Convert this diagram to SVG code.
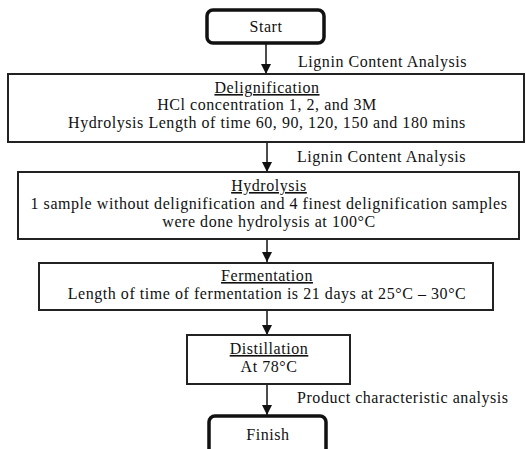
<svg xmlns="http://www.w3.org/2000/svg" width="526" height="449" viewBox="0 0 526 449">
<style>
text{font-family:"Liberation Serif","Times New Roman",serif;font-size:16px;letter-spacing:0.55px;fill:#111;}
.c{text-anchor:middle;}
.u{text-decoration:underline;}
.box{fill:#fff;stroke:#222;stroke-width:2;}
.term{fill:#fff;stroke:#111;stroke-width:3.5;}
.conn line{stroke:#111;stroke-width:1.5;}
</style>
<defs>
<marker id="ah" viewBox="0 0 10 10" refX="10" refY="5" markerWidth="10" markerHeight="10" markerUnits="userSpaceOnUse" orient="auto">
<path d="M0,0 L10,5 L0,10 z" fill="#111"/>
</marker>
</defs>
<g id="connectors" class="conn">
<line x1="266" y1="44" x2="266" y2="74" marker-end="url(#ah)"/>
<line x1="267" y1="142" x2="267" y2="172" marker-end="url(#ah)"/>
<line x1="267" y1="240" x2="267" y2="262" marker-end="url(#ah)"/>
<line x1="267" y1="310" x2="267" y2="335" marker-end="url(#ah)"/>
<line x1="267" y1="384" x2="267" y2="415" marker-end="url(#ah)"/>
</g>
<g id="start">
<rect class="term" x="207" y="10" width="117" height="33" rx="6"/>
<text class="c" x="266" y="32">Start</text>
</g>
<g id="label1"><text x="298" y="67">Lignin Content Analysis</text></g>
<g id="delignification">
<rect class="box" x="8" y="74" width="516" height="68"/>
<text class="c u" x="267" y="93">Delignification</text>
<text class="c" x="267" y="110">HCl concentration 1, 2, and 3M</text>
<text class="c" x="267" y="128">Hydrolysis Length of time 60, 90, 120, 150 and 180 mins</text>
</g>
<g id="label2"><text x="297" y="162">Lignin Content Analysis</text></g>
<g id="hydrolysis">
<rect class="box" x="18" y="172" width="501" height="67"/>
<text class="c u" x="269" y="191">Hydrolysis</text>
<text class="c" x="269" y="209">1 sample without delignification and 4 finest delignification samples</text>
<text class="c" x="269" y="227">were done hydrolysis at 100°C</text>
</g>
<g id="fermentation">
<rect class="box" x="39" y="263" width="454" height="47"/>
<text class="c u" x="267" y="281">Fermentation</text>
<text class="c" x="267" y="299">Length of time of fermentation is 21 days at 25°C – 30°C</text>
</g>
<g id="distillation">
<rect class="box" x="187" y="335" width="163" height="49"/>
<text class="c u" x="269" y="354">Distillation</text>
<text class="c" x="269" y="372">At 78°C</text>
</g>
<g id="label3"><text x="297" y="403">Product characteristic analysis</text></g>
<g id="finish">
<rect class="term" x="209" y="416" width="117" height="40" rx="6"/>
<text class="c" x="268" y="440">Finish</text>
</g>
</svg>
